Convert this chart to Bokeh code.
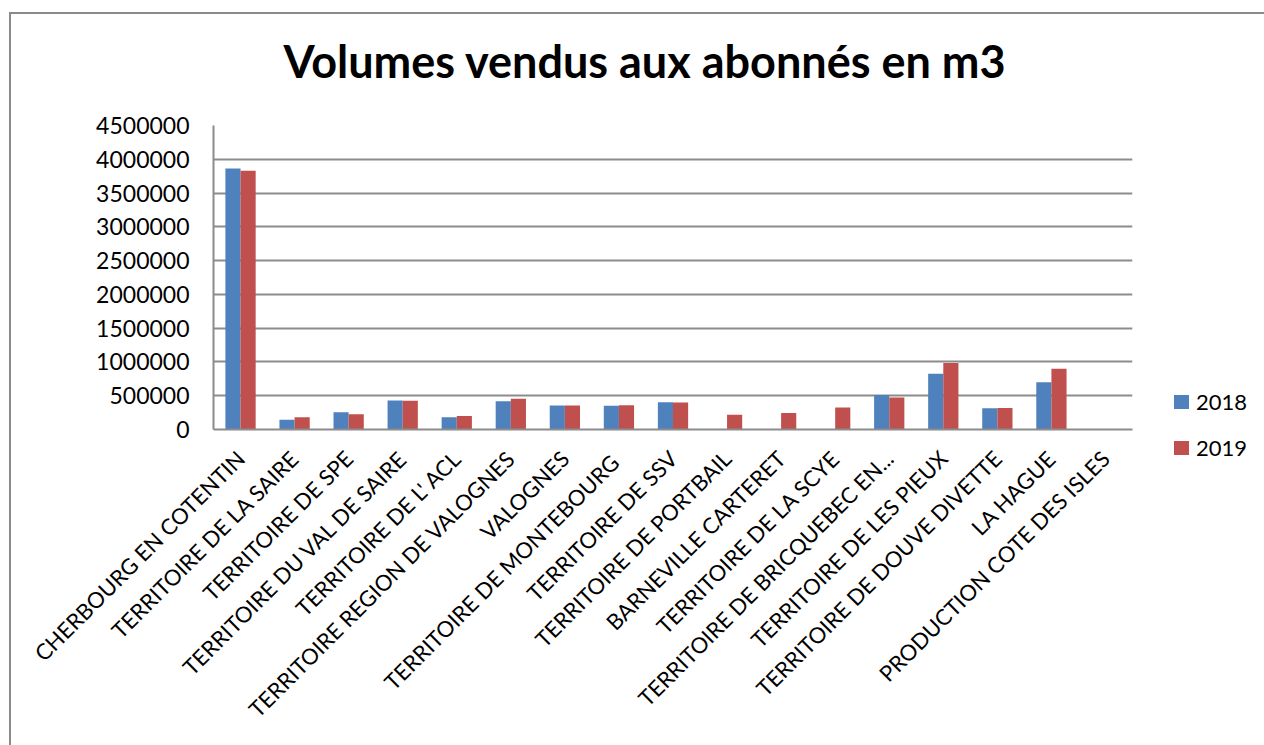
import math
from bokeh.plotting import figure
from bokeh.layouts import row
from bokeh.models import (ColumnDataSource, FactorRange, Range1d, SingleIntervalTicker,
                          BasicTickFormatter, Title, Div)
from bokeh.transform import dodge
from bokeh.embed import file_html
from bokeh.resources import INLINE

categories = [
    "CHERBOURG EN COTENTIN",
    "TERRITOIRE DE LA SAIRE",
    "TERRITOIRE DE SPE",
    "TERRITOIRE DU VAL DE SAIRE",
    "TERRITOIRE DE L' ACL",
    "TERRITOIRE REGION DE VALOGNES",
    "VALOGNES",
    "TERRITOIRE DE  MONTEBOURG",
    "TERRITOIRE DE SSV",
    "TERRITOIRE DE PORTBAIL",
    "BARNEVILLE CARTERET",
    "TERRITOIRE DE LA SCYE",
    "TERRITOIRE DE BRICQUEBEC EN...",
    "TERRITOIRE DE LES PIEUX",
    "TERRITOIRE DE DOUVE DIVETTE",
    "LA HAGUE",
    "PRODUCTION COTE DES ISLES",
]
v2018 = [3862000, 145000, 255000, 430000, 180000, 420000, 355000, 350000, 405000,
         0, 0, 0, 510000, 825000, 315000, 700000, 0]
v2019 = [3832000, 180000, 225000, 425000, 200000, 455000, 355000, 360000, 400000,
         220000, 245000, 325000, 475000, 985000, 320000, 900000, 0]
series = ["2018", "2019"]
colors = ["#4F81BD", "#C0504D"]

src = ColumnDataSource(dict(cat=categories, y2018=v2018, y2019=v2019))

FONT = "Lato"
GRAY = "#8c8c8c"

# main chart
p = figure(x_range=FactorRange(factors=categories), y_range=Range1d(0, 4500000),
           width=1131, height=730, output_backend="svg", toolbar_location=None,
           min_border_left=202, min_border_right=10, min_border_top=111,
           min_border_bottom=315)
p.outline_line_color = None

p.title.text = "Volumes vendus aux abonnés en m3"
p.title.align = "left"
p.title.text_font = FONT
p.title.text_font_style = "bold"
p.title.text_font_size = "45px"
p.title.text_color = "#000000"
p.title.offset = 70
p.title.standoff = 0

# spacer between the frame and the title
spacer = Title(text=" ", text_font_size="1px", standoff=35)
p.add_layout(spacer, "above")

r1 = p.vbar(x=dodge("cat", -0.14, range=p.x_range), top="y2018", width=0.28,
            source=src, fill_color=colors[0], line_color=None)
r2 = p.vbar(x=dodge("cat", 0.14, range=p.x_range), top="y2019", width=0.28,
            source=src, fill_color=colors[1], line_color=None)

p.yaxis.ticker = SingleIntervalTicker(interval=500000)
p.yaxis.formatter = BasicTickFormatter(use_scientific=False)
p.yaxis.major_label_text_font = FONT
p.yaxis.major_label_text_font_size = "23px"
p.yaxis.major_label_text_color = "#000000"
p.yaxis.major_label_standoff = 24
p.yaxis.axis_line_color = GRAY
p.yaxis.axis_line_width = 2
p.yaxis.major_tick_out = 0
p.yaxis.major_tick_in = 0
p.yaxis.minor_tick_out = 0
p.yaxis.minor_tick_in = 0

p.xaxis.major_label_orientation = math.pi / 4
p.xaxis.major_label_text_font = FONT
p.xaxis.major_label_text_font_size = "22px"
p.xaxis.major_label_text_color = "#000000"
p.xaxis.major_label_standoff = 25
p.xaxis.axis_line_color = GRAY
p.xaxis.axis_line_width = 2
p.xaxis.major_tick_out = 0
p.xaxis.major_tick_in = 0

p.xgrid.grid_line_color = None
p.ygrid.grid_line_color = GRAY
p.ygrid.grid_line_width = 2

# legend to the right of the chart
def legend_entry(label, color, center_y):
    return (
        f'<div style="position:absolute;left:27px;top:{center_y - 7}px;'
        f'width:15px;height:14px;background:{color};"></div>'
        f'<div style="position:absolute;left:49px;top:{center_y - 14}px;'
        f'line-height:28px;font-family:Lato;font-size:22px;color:#000;'
        f'white-space:nowrap;">{label}</div>'
    )

legend_html = ('<div style="position:relative;width:122px;height:730px;">'
               + legend_entry(series[0], colors[0], 383)
               + legend_entry(series[1], colors[1], 429)
               + '</div>')
leg = Div(text=legend_html, width=122, height=730)

layout = row(p, leg, styles={"margin-left": "9px", "margin-top": "12px",
                             "border-style": "solid none none solid",
                             "border-width": "2px 0px 0px 2px",
                             "border-color": "#8a8a8a"})

open("out.html", "w").write(file_html(layout, INLINE))
